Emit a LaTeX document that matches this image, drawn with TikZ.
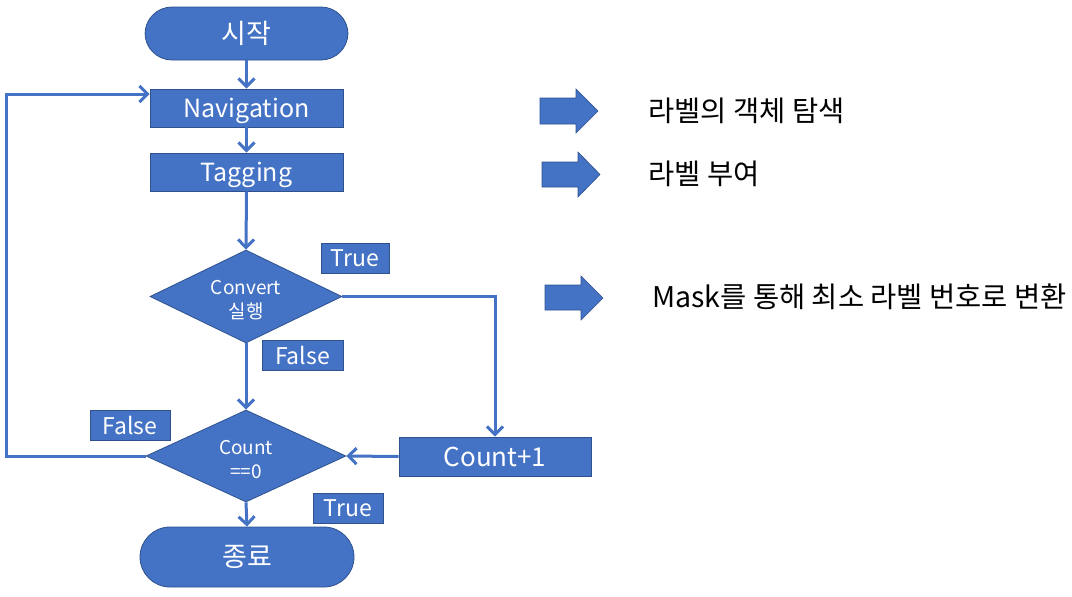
\documentclass[tikz,border=0pt]{standalone}
\usepackage{fontspec}
\setmainfont{Noto Sans CJK KR}
\usetikzlibrary{shapes.geometric,arrows.meta}
\definecolor{ofblue}{HTML}{4472C4}
\definecolor{ofedge}{HTML}{2F528F}
\tikzset{
  box/.style={rectangle,fill=ofblue,draw=ofedge,line width=0.8pt,text=white,inner sep=0pt,font=\fontsize{23}{26}\selectfont},
  wide/.style={box,minimum width=193pt,minimum height=38pt,font=\fontsize{25}{28}\selectfont,text height=20pt,text depth=2pt},
  term/.style={box,rounded corners=27pt,font=\fontsize{27}{30}\selectfont},
  dec/.style={diamond,fill=ofblue,draw=ofedge,line width=0.8pt,text=white,inner sep=-25pt,align=center,font=\fontsize{19}{22}\selectfont},
  tag/.style={box,minimum height=30pt},
  conn/.style={draw=ofblue,line width=3pt,-{Straight Barb[length=8pt,width=16pt,line width=3pt]}},
  barrow/.style={fill=ofblue,draw=ofedge,line width=0.6pt},
  desc/.style={anchor=west,inner sep=0pt,text=black,font=\fontsize{28.5}{30}\selectfont}
}
\begin{document}
\begin{tikzpicture}[x=1pt,y=-1pt]
\useasboundingbox (0,0) rectangle (1072,597);
% nodes
\node[term,minimum width=203pt,minimum height=53pt] (start) at (246.5,33.5) {시작};
\node[wide] (nav) at (246.5,108) {Navigation};
\node[wide] (tag) at (246.5,172) {Tagging};
\node[dec,minimum width=192pt,minimum height=93pt] (conv) at (246,296.5) {\rule{0pt}{22pt}Convert\\[2pt]실행};
\node[dec,minimum width=200pt,minimum height=92pt] (cnt) at (246,456) {\rule{0pt}{22pt}Count\\[2pt]==0};
\node[box,minimum width=192pt,minimum height=39pt,font=\fontsize{26}{28}\selectfont] (cnt1) at (495,456.5) {Count+1};
\node[term,minimum width=214pt,minimum height=60pt,rounded corners=30pt] (end) at (247,557) {종료};
% labels
\node[tag,minimum width=68pt] (t1) at (355,258) {True};
\node[tag,minimum width=81pt] (f1) at (302.5,355) {False};
\node[tag,minimum width=80pt] (f2) at (130,425) {False};
\node[tag,minimum width=70pt] (t2) at (348,508) {True};
% connectors
\draw[conn] (start.south) -- (nav.north);
\draw[conn] (nav.south) -- (tag.north);
\draw[conn] (tag.south) -- (conv.north);
\draw[conn] (conv.south) -- (cnt.north);
\draw[conn] (cnt.south) -- (end.north);
\draw[conn] (conv.east) -| (cnt1.north);
\draw[conn] (cnt1.west) -- (cnt.east);
\coordinate (lp) at (6,94);
\draw[conn] (cnt.west) -| (lp) -- ([yshift=14pt]nav.west);
% block arrows
\draw[barrow] (540,98) -- (576,98) -- (576,89) -- (598,111) -- (576,133) -- (576,124) -- (540,124) -- cycle;
\draw[barrow] (542,162) -- (578,162) -- (578,152) -- (600,174.5) -- (578,197) -- (578,187) -- (542,187) -- cycle;
\draw[barrow] (545,285) -- (581,285) -- (581,276) -- (603,298) -- (581,320) -- (581,310) -- (545,310) -- cycle;
% descriptions
\node[desc] (d1) at (648,111) {라벨의 객체 탐색};
\node[desc] (d2) at (648,174) {라벨 부여};
\node[desc] (d3) at (652,297) {Mask를 통해 최소 라벨 번호로 변환};
\end{tikzpicture}
\end{document}
